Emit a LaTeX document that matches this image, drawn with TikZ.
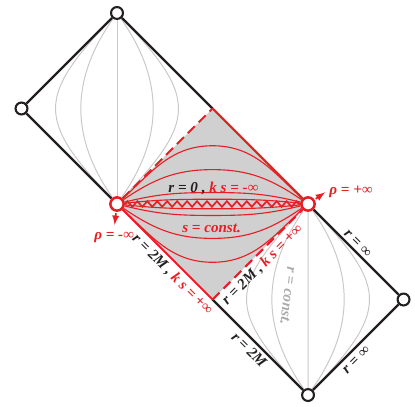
\documentclass[tikz,border=0pt]{standalone}
\usepackage{fontspec}
\setmainfont{Liberation Serif}
\usetikzlibrary{decorations.pathmorphing}

\definecolor{penred}{RGB}{232,30,37}
\definecolor{regiongray}{RGB}{208,208,208}
\definecolor{curvegray}{RGB}{200,200,200}
\definecolor{edgeblack}{RGB}{35,31,32}

\tikzset{
	endpt/.style={circle, draw=edgeblack, fill=white, line width=1.5pt, inner sep=0pt, minimum size=8.5pt},
	rhopt/.style={circle, draw=penred, fill=white, line width=1.8pt, inner sep=0pt, minimum size=9.5pt},
	edgeline/.style={draw=edgeblack, line width=1.6pt},
	horline/.style={draw=penred, line width=1.5pt},
	hordash/.style={horline, dash pattern=on 7pt off 4pt},
	scurve/.style={draw=penred, line width=0.8pt},
	rcurve/.style={draw=curvegray, line width=0.7pt},
	rhoarrow/.style={-latex, draw=penred, line width=1.3pt},
	lab/.style={font=\fontsize{10.8}{13}\selectfont\bfseries\itshape, text=edgeblack, inner sep=2pt},
}

\begin{document}
\begin{tikzpicture}[scale=2.4]
			\useasboundingbox (-1.225,-2.115) rectangle (3.12,2.136);
			%shaded region
			\coordinate (upmid) at (1,1);
			\coordinate (lowmid) at (1,-1);
			\fill[regiongray] (0,0) -- (upmid) -- (2,0) -- (lowmid) -- cycle;
			
			%corners
			\node[endpt] (top) at (0,2) {};
			\node[endpt] (farleft) at (-1,1) {};
			\node[endpt] (farright) at (3,-1) {};
			\node[endpt] (bottom) at (2,-2) {};
			\node[rhopt] (rhoL) at (0,0) {};
			\node[rhopt] (rhoR) at (2,0) {};
			
			%r = const. curves
			\draw[rcurve] (top) -- (rhoL);
			\draw[rcurve] (rhoR) -- (bottom);
			\foreach \c/\d in {0.84/0.12, 0.49/0.3, -0.49/0.3, -0.84/0.12}{
				\draw[rcurve] (top) .. controls (\c,1+\d) and (\c,1-\d) .. (rhoL);
				\draw[rcurve] (rhoR) .. controls (2+\c,-1+\d) and (2+\c,-1-\d) .. (bottom);
			}
			
			%s = const. curves
			\foreach \h/\a in {0.61/43, 0.36/34, 0.12/14, 0.05/6}{
				\draw[scurve] (rhoL) to[out=\a, in=180] (1,\h) to[out=0, in=180-\a] (rhoR);
				\draw[scurve] (rhoL) to[out=-\a, in=180] (1,-\h) to[out=0, in=180+\a] (rhoR);
			}
			\draw[horline, line width=1.2pt, decorate, decoration={zigzag, segment length=2.5mm, amplitude=0.7mm}] (rhoL) -- (rhoR);
			
			%boundaries
			\draw[edgeline] (farleft) -- (top);
			\draw[edgeline] (farleft) -- (rhoL);
			\draw[edgeline] (top) -- (upmid);
			\draw[edgeline] (rhoR) -- (farright);
			\draw[edgeline] (lowmid) -- (bottom);
			\draw[edgeline] (bottom) -- (farright);
			\draw[horline] (upmid) -- (rhoR);
			\draw[horline] (rhoL) -- (lowmid);
			\draw[hordash] (rhoL) -- (upmid);
			\draw[hordash] (lowmid) -- (rhoR);
			
			%labels
			\node[lab] (singlab) at (1.01,0.16) {r = 0 , \textcolor{penred}{k s = -∞}};
			\node[lab, text=penred] (slab) at (0.99,-0.25) {s = const.};
			\node[lab, text=curvegray!85!black, rotate=-97] (rlab) at (1.79,-0.96) {r = const.};
			\path (rhoL) -- (lowmid) node[lab, sloped, below=1pt, pos=0.64] (hlabL) {r = 2M , \textcolor{penred}{k s = +∞}};
			\path (lowmid) -- (rhoR) node[lab, sloped, below=1pt, pos=0.47] (hlabR) {r = 2M , \textcolor{penred}{k s = +∞}};
			\path (rhoR) -- (farright) node[lab, sloped, above, pos=0.46] (inflabA) {r = ∞};
			\path (lowmid) -- (bottom) node[lab, sloped, below=1pt, pos=0.48] (hlabB) {r = 2M};
			\path (bottom) -- (farright) node[lab, sloped, below=2pt, pos=0.43] (inflabB) {r = ∞};
			
			%rho arrows
			\node[lab, text=penred] (rhominus) at (-0.03,-0.35) {ρ = -∞};
			\node[lab, text=penred] (rhoplus) at (2.45,0.13) {ρ = +∞};
			\draw[rhoarrow, shorten <=1pt, shorten >=3pt] (rhoL) -- (rhominus.north);
			\draw[rhoarrow, shorten <=1pt, shorten >=1pt] (rhoR) -- (rhoplus.west);
\end{tikzpicture}
\end{document}
